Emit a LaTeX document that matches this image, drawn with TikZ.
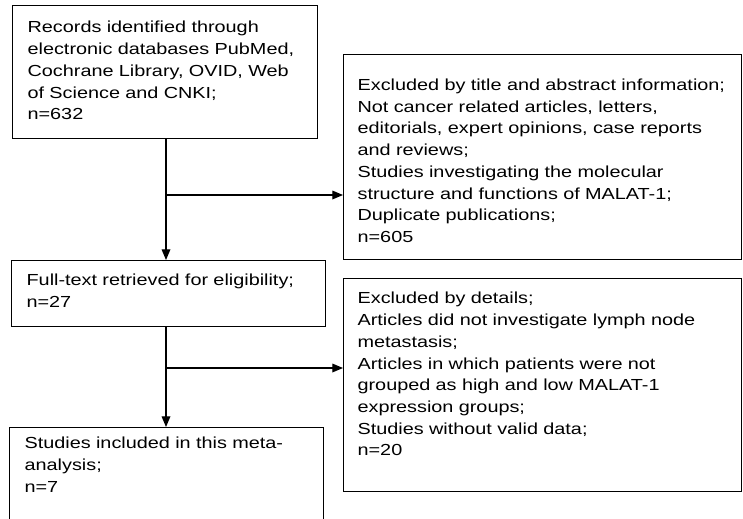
\documentclass[tikz,border=0pt]{standalone}
\usepackage{fontspec}
\setmainfont[FakeStretch=1.24]{Liberation Sans}
\usetikzlibrary{arrows.meta}

\begin{document}
\begin{tikzpicture}[x=.75pt,y=-.75pt,
    box/.style={draw,line width=.9pt,anchor=north west,align=left,
      inner xsep=11.25pt,inner ysep=0pt,
      font=\fontsize{12pt}{16.3pt}\selectfont},
    narrowbox/.style={box,text width=206.25pt},
    midbox/.style={box,text width=213pt},
    widebox/.style={box,inner xsep=10.5pt,text width=277.5pt},
    link/.style={line width=.9pt},
    arr/.style={link,-{Triangle[length=8pt,width=6.5pt]}}]
    \useasboundingbox (0,0) rectangle (743,518);

    % records
    \node[narrowbox,text height=20.4pt,text depth=79.35pt] (rec) at (12,5)
      {Records identified through\\electronic databases PubMed,\\Cochrane Library, OVID, Web\\of Science and CNKI;\\n=632};
    \node[widebox,text height=26.85pt,text depth=126.9pt] (excl1) at (343,54)
      {Excluded by title and abstract information;\\Not cancer related articles, letters,\\editorials, expert opinions, case reports\\and reviews;\\Studies investigating the molecular\\structure and functions of MALAT-1;\\Duplicate publications;\\n=605};

    % full text
    \node[midbox,text height=18.6pt,text depth=30.9pt] (full) at (11,260)
      {Full-text retrieved for eligibility;\\n=27};
    \node[widebox,text height=18.9pt,text depth=140.85pt] (excl2) at (343,278)
      {Excluded by details;\\Articles did not investigate lymph node\\metastasis;\\Articles in which patients were not\\grouped as high and low MALAT-1\\expression groups;\\Studies without valid data;\\n=20};

    % included
    \node[midbox,text height=15.9pt,text depth=75pt] (incl) at (9,427)
      {Studies included in this meta-\\analysis;\\n=7};

    % arrows
    \coordinate (s1) at (166,195);
    \coordinate (s2) at (166,368);
    \draw[link] (rec.south -| s1) -- (s1);
    \draw[arr] (s1) -- (s1 |- full.north);
    \draw[arr] (s1) -- (s1 -| excl1.west);
    \draw[link] (full.south -| s2) -- (s2);
    \draw[arr] (s2) -- (s2 |- incl.north);
    \draw[arr] (s2) -- (s2 -| excl2.west);
  \end{tikzpicture}
\end{document}
